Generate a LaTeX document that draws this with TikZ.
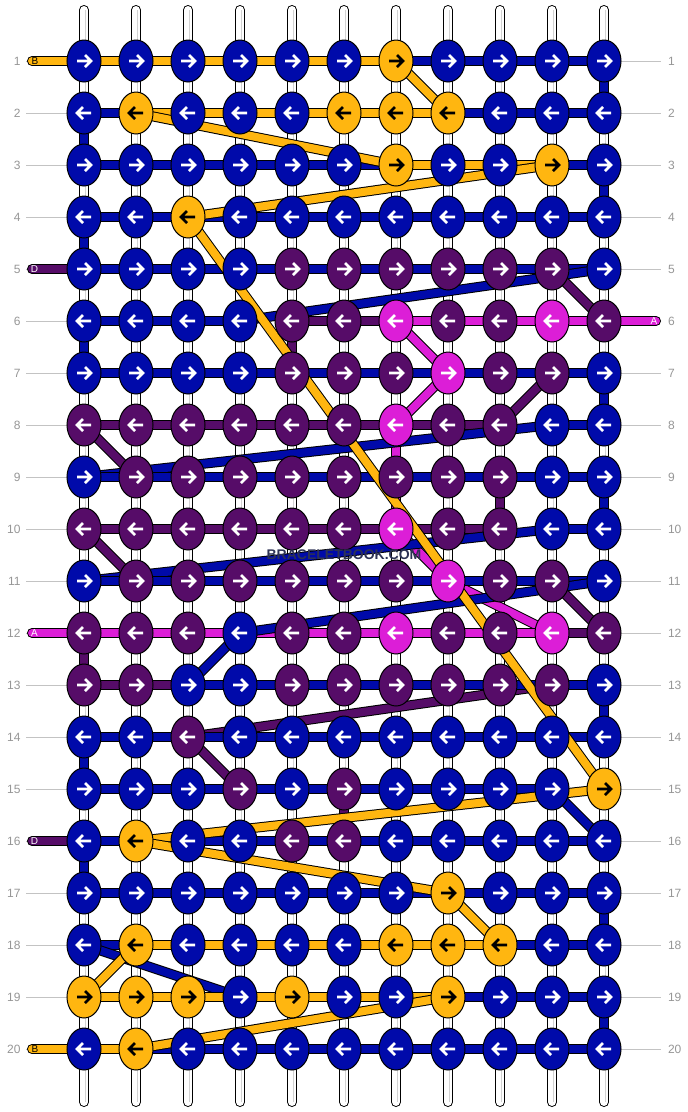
\documentclass[tikz,border=0pt]{standalone}
\usepackage{fontspec}
\setmainfont{Liberation Sans}
\usepackage{tikz}
\usetikzlibrary{shapes.geometric}
\definecolor{knotblue}{RGB}{0,10,170}
\definecolor{knotorange}{RGB}{255,182,16}
\definecolor{knotpurple}{RGB}{86,12,104}
\definecolor{knotmagenta}{RGB}{220,30,215}
\definecolor{numgray}{RGB}{150,150,150}
\definecolor{linegray}{RGB}{195,195,195}
\definecolor{markink}{RGB}{45,50,85}
\pgfdeclarelayer{strings}
\pgfdeclarelayer{threads}
\pgfsetlayers{strings,threads,main}
\tikzset{knot/.style={ellipse, draw=black, line width=1pt, minimum width=34pt, minimum height=42pt, inner sep=0pt},
kb/.style={fill=knotblue}, ko/.style={fill=knotorange}, kp/.style={fill=knotpurple}, km/.style={fill=knotmagenta},
ab/.style={draw=white}, ao/.style={draw=black}, ap/.style={draw=white}, am/.style={draw=white},
arrowline/.style={line width=2.6pt},
thread/.style={draw=black, line width=1pt, double=#1, double distance=8pt, line cap=round, line join=round},
basestring/.style={draw=black, line width=1pt, double=white, double distance=8pt, line cap=round},
rowline/.style={draw=linegray, line width=1pt},
rownum/.style={text=numgray, font=\fontsize{12}{14}\selectfont},
endtag/.style={font=\fontsize{10}{12}\selectfont, inner sep=0pt},
watermark/.style={text=markink, font=\bfseries\fontsize{14}{16}\selectfont}}

\begin{document}
\begin{tikzpicture}[x=1pt, y=-1pt]
\useasboundingbox (0,0) rectangle (688,1112);
\begin{pgfonlayer}{strings}
\foreach \c in {1,...,11} {
  \draw[basestring] ({84+52*(\c-1)},10) -- ({84+52*(\c-1)},1102);
  \draw[gray!35, line width=1pt] ({85.5+52*(\c-1)},10) -- ({85.5+52*(\c-1)},1102);
}
\end{pgfonlayer}
\foreach \r/\pat in {1/{b,b,b,b,b,b,o,b,b,b,b}, 2/{b,o,b,b,b,o,o,o,b,b,b}, 3/{b,b,b,b,b,b,o,b,b,o,b},
  4/{b,b,o,b,b,b,b,b,b,b,b}, 5/{b,b,b,b,p,p,p,p,p,p,b}, 6/{b,b,b,b,p,p,m,p,p,m,p},
  7/{b,b,b,b,p,p,p,m,p,p,b}, 8/{p,p,p,p,p,p,m,p,p,b,b}, 9/{b,p,p,p,p,p,p,p,p,b,b},
  10/{p,p,p,p,p,p,m,p,p,b,b}, 11/{b,p,p,p,p,p,p,m,p,p,b}, 12/{p,p,p,b,p,p,m,p,p,m,p},
  13/{p,p,b,b,p,p,p,p,p,p,b}, 14/{b,b,p,b,b,b,b,b,b,b,b}, 15/{b,b,b,p,b,p,b,b,b,b,o},
  16/{b,o,b,b,p,p,b,b,b,b,b}, 17/{b,b,b,b,b,b,b,o,b,b,b}, 18/{b,o,b,b,b,b,o,o,o,b,b},
  19/{o,o,o,b,o,b,b,o,b,b,b}, 20/{b,o,b,b,b,b,b,b,b,b,b}} {
  \pgfmathsetmacro\dir{isodd(\r) ? 1 : -1}
  \foreach \col [count=\c] in \pat {
    \node[knot, k\col] (k\r-\c) at ({84+52*(\c-1)},{61+52*(\r-1)}) {};
    \draw[arrowline, a\col, shift={(k\r-\c.center)}, xscale=\dir] (-7,0) -- (7,0) (1,6) -- (7,0) -- (1,-6);
  }
  \node[rownum, anchor=east] (ln\r) at (24,{61+52*(\r-1)}) {\r};
  \node[rownum, anchor=west] (rn\r) at (664.5,{61+52*(\r-1)}) {\r};
  \begin{pgfonlayer}{strings}
  \draw[rowline] ([xshift=2pt]ln\r.east) -- (k\r-1.center);
  \draw[rowline] (k\r-11.center) -- ([xshift=-3.5pt]rn\r.west);
  \end{pgfonlayer}
}
\coordinate (bstart) at (32,61);
\coordinate (bend) at (32,1049);
\coordinate (dstart) at (32,269);
\coordinate (dend) at (32,841);
\coordinate (astart) at (656,321);
\coordinate (aend) at (32,633);
\begin{pgfonlayer}{threads}
\foreach \p [remember=\p as \q (initially dstart)] in {k5-10,k6-11,k6-5,k7-5,k7-10,k8-9,k8-1,k9-2,k9-9,k10-9,k10-1,k11-2,k11-10,k12-11,k12-1,k13-1,k13-10,k14-3,k15-4,k15-6,k16-6,dend}
  \draw[thread=knotpurple] (\q.center) -- (\p.center);
\foreach \p [remember=\p as \q (initially astart)] in {k6-7,k7-8,k8-7,k10-7,k11-8,k12-10,aend}
  \draw[thread=knotmagenta] (\q.center) -- (\p.center);
\foreach \p [remember=\p as \q (initially k1-1)] in {k1-11,k2-11,k2-1,k3-1,k3-11,k4-11,k4-1,k5-1,k5-11,k6-4,k6-1,k7-1,k7-11,k8-11,k8-10,k9-1,k9-11,k10-11,k10-10,k11-1,k11-11,k12-4,k13-3,k13-11,k14-11,k14-1,k15-1,k15-10,k16-11,k16-1,k17-1,k17-11,k18-11,k18-1,k19-4,k19-11,k20-11,k20-1}
  \draw[thread=knotblue] (\q.center) -- (\p.center);
\foreach \p [remember=\p as \q (initially bstart)] in {k1-7,k2-8,k2-2,k3-7,k3-10,k4-3,k15-11,k16-2,k17-8,k18-9,k18-2,k19-1,k19-8,k20-2,bend}
  \draw[thread=knotorange] (\q.center) -- (\p.center);
\end{pgfonlayer}
\node[endtag, text=black] (tagb1) at (35,61) {B};
\node[endtag, text=white] (tagd5) at (34.5,269) {D};
\node[endtag, text=white] (taga6) at (654,321) {A};
\node[endtag, text=white] (taga12) at (34.5,633) {A};
\node[endtag, text=white] (tagd16) at (34.5,841) {D};
\node[endtag, text=black] (tagb20) at (35,1049) {B};
\node[watermark] (mark) at (344,555) {BRACELETBOOK.COM};
\end{tikzpicture}
\end{document}
